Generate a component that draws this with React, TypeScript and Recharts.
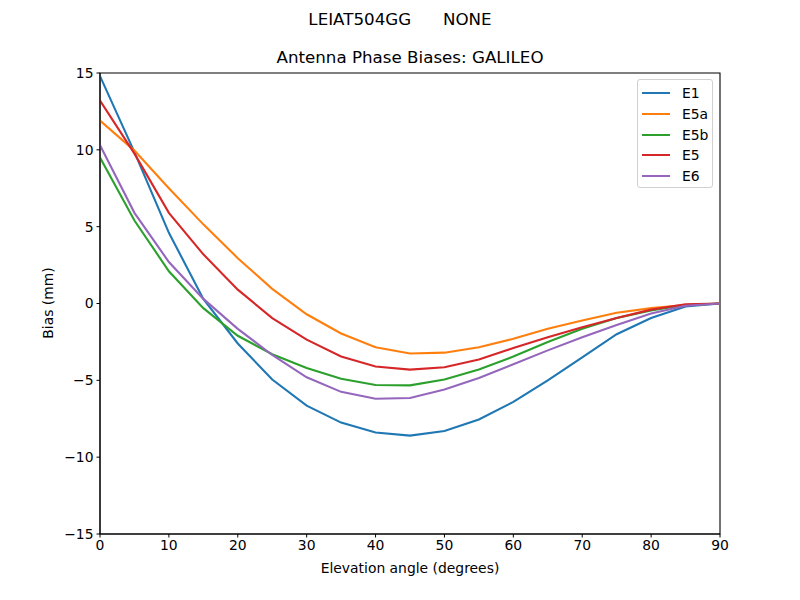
import { LineChart, Line, XAxis, YAxis, ReferenceArea } from 'recharts';

const elevations = [0, 5, 10, 15, 20, 25, 30, 35, 40, 45, 50, 55, 60, 65, 70, 75, 80, 85, 90];

const e1 = [14.8, 9.85, 4.6, 0.3, -2.6, -4.95, -6.65, -7.75, -8.4, -8.6, -8.3, -7.55, -6.4, -5.0, -3.5, -2.0, -0.95, -0.2, 0];
const e5a = [11.9, 9.95, 7.5, 5.15, 2.95, 0.95, -0.7, -1.95, -2.85, -3.25, -3.2, -2.85, -2.3, -1.65, -1.1, -0.6, -0.3, -0.1, 0];
const e5b = [9.5, 5.4, 2.1, -0.3, -2.1, -3.3, -4.2, -4.9, -5.3, -5.33, -4.95, -4.3, -3.45, -2.5, -1.65, -0.95, -0.45, -0.1, 0];
const e5 = [13.2, 9.75, 5.9, 3.2, 0.9, -0.95, -2.35, -3.45, -4.1, -4.3, -4.15, -3.65, -2.9, -2.2, -1.55, -0.95, -0.4, -0.05, 0];
const e6 = [10.3, 5.9, 2.7, 0.3, -1.65, -3.35, -4.8, -5.75, -6.2, -6.15, -5.6, -4.85, -3.95, -3.05, -2.2, -1.4, -0.65, -0.15, 0];

const xTicks = [0, 10, 20, 30, 40, 50, 60, 70, 80, 90];
const yTicks = [-15, -10, -5, 0, 5, 10, 15];

const series = [
  { name: 'E1', values: e1, color: '#1f77b4' },
  { name: 'E5a', values: e5a, color: '#ff7f0e' },
  { name: 'E5b', values: e5b, color: '#2ca02c' },
  { name: 'E5', values: e5, color: '#d62728' },
  { name: 'E6', values: e6, color: '#9467bd' },
];

const chartData = elevations.map((el, i) => {
  const row: any = { el };
  series.forEach((s) => {
    row[s.name] = s.values[i];
  });
  return row;
});

const font = 'DejaVu Sans, sans-serif';
const tickStyle = { fontSize: 13.9, fill: '#000', fontFamily: font };

const fmt = (v: number) => (v < 0 ? '\u2212' + Math.abs(v) : String(v));

const LegendBox = () => (
  <div
    style={{
      position: 'absolute',
      left: 637,
      top: 79,
      width: 76,
      height: 109,
      boxSizing: 'border-box',
      background: 'rgba(255,255,255,0.8)',
      border: '1px solid #d0d0d0',
      borderRadius: 3,
      padding: '3px 0 0 4px',
      fontFamily: font,
      fontSize: 13.9,
      textAlign: 'left',
    }}
  >
    {series.map((s) => (
      <div key={s.name} style={{ display: 'flex', alignItems: 'center', height: 20.7 }}>
        <div style={{ width: 28, height: 2, background: s.color, marginRight: 12 }} />
        <span>{s.name}</span>
      </div>
    ))}
  </div>
);

const App = () => {
  return (
    <div style={{ position: 'absolute', left: 0, top: 0, width: 800, height: 600, background: '#fff', fontFamily: font }}>
      <div style={{ position: 'absolute', left: 0, width: 800, top: 9, textAlign: 'center', fontSize: 16.7, whiteSpace: 'pre' }}>
        {'LEIAT504GG      NONE'}
      </div>
      <div style={{ position: 'absolute', left: 100, width: 620, top: 47, textAlign: 'center', fontSize: 16.7 }}>
        Antenna Phase Biases: GALILEO
      </div>
      <div style={{ position: 'absolute', left: 100, width: 620, top: 560, textAlign: 'center', fontSize: 13.9 }}>
        Elevation angle (degrees)
      </div>
      <div
        style={{
          position: 'absolute',
          left: 48,
          top: 303,
          transform: 'translate(-50%, -50%) rotate(-90deg)',
          fontSize: 13.9,
          whiteSpace: 'nowrap',
        }}
      >
        Bias (mm)
      </div>
      <LineChart width={800} height={600} data={chartData} margin={{ top: 73, right: 80, bottom: 0, left: 0 }}>
        <XAxis
          dataKey='el'
          type='number'
          domain={[0, 90]}
          ticks={xTicks}
          height={66}
          tickSize={3.5}
          tickMargin={3}
          tick={tickStyle}
          stroke='#000'
          allowDataOverflow
        />
        <YAxis
          type='number'
          domain={[-15, 15]}
          ticks={yTicks}
          width={100}
          tickSize={3.5}
          tickMargin={3}
          tick={tickStyle}
          tickFormatter={fmt}
          stroke='#000'
          allowDataOverflow
        />
        <ReferenceArea x1={0} x2={90} y1={-15} y2={15} fill='none' stroke='#000' strokeWidth={1.1} ifOverflow='visible' />
        {series.map((s) => (
          <Line
            key={s.name}
            type='linear'
            dataKey={s.name}
            stroke={s.color}
            strokeWidth={2.1}
            dot={false}
            activeDot={false}
            isAnimationActive={false}
          />
        ))}
      </LineChart>
      <LegendBox />
    </div>
  );
};

export default App;
